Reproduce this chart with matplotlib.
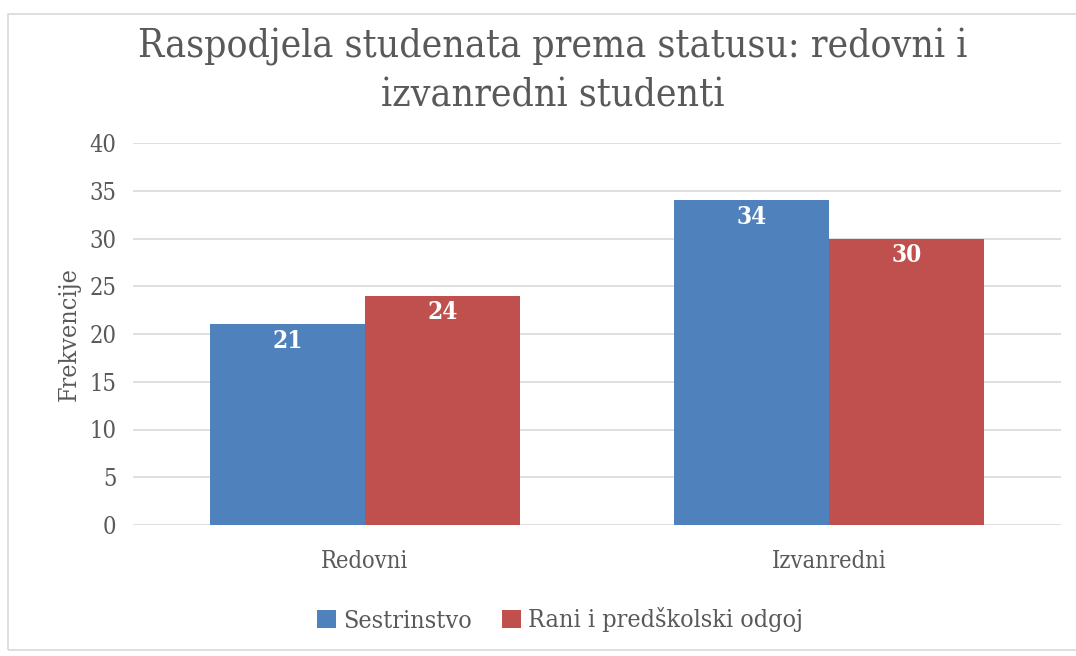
import matplotlib.pyplot as plt
import numpy as np
from matplotlib.patches import Rectangle

categories = ['Redovni', 'Izvanredni']
series_names = ['Sestrinstvo', 'Rani i predškolski odgoj']
sestrinstvo = [21, 34]
rani = [24, 30]
yticks = [0, 5, 10, 15, 20, 25, 30, 35, 40]

blue = '#4F81BD'
red = '#C0504D'
txt = '#595959'

plt.rcParams['font.family'] = ['DejaVu Serif']
plt.rcParams['font.stretch'] = 'condensed'

fig = plt.figure(figsize=(10.76, 6.56), dpi=100)
# chart border
fig.patches.append(Rectangle((8 / 1076, 6 / 656), 1.0, 1 - 20 / 656,
                             transform=fig.transFigure, fill=False,
                             edgecolor='#D9D9D9', linewidth=1.2))

ax = fig.add_axes([133 / 1076, 1 - 525 / 656, 928 / 1076, 382 / 656])

x = np.arange(len(categories))
w = 1 / 3
b1 = ax.bar(x - w / 2, sestrinstvo, w, color=blue, label=series_names[0])
b2 = ax.bar(x + w / 2, rani, w, color=red, label=series_names[1])

for bars in (b1, b2):
    for r in bars:
        ax.text(r.get_x() + r.get_width() / 2, r.get_height() - 1.7,
                str(int(r.get_height())), ha='center', va='center',
                color='white', fontsize=17.5, fontweight='bold')

ax.set_xlim(-0.5, 1.5)
ax.set_ylim(0, 40)
ax.set_yticks(yticks)
ax.set_xticks(x)
ax.set_xticklabels(categories)
ax.tick_params(axis='both', length=0, labelsize=17, colors=txt)
ax.tick_params(axis='x', pad=18)
ax.tick_params(axis='y', pad=12)
ax.yaxis.grid(True, color='#D9D9D9', linewidth=1.2)
ax.set_axisbelow(True)
for s in ax.spines.values():
    s.set_visible(False)

ax.set_ylabel('Frekvencije', fontsize=18, color=txt, labelpad=6)

fig.text(553 / 1076, 1 - 71 / 656,
         'Raspodjela studenata prema statusu: redovni i\nizvanredni studenti',
         ha='center', va='center', fontsize=28, color=txt, linespacing=1.4)

ax.legend(loc='center', bbox_to_anchor=(560 / 1076, 1 - 620 / 656),
          bbox_transform=fig.transFigure, ncol=2, frameon=False,
          fontsize=18, labelcolor=txt, handlelength=0.75, handleheight=0.75,
          handletextpad=0.3, columnspacing=1.2)

fig.savefig('out.png', dpi=100)
